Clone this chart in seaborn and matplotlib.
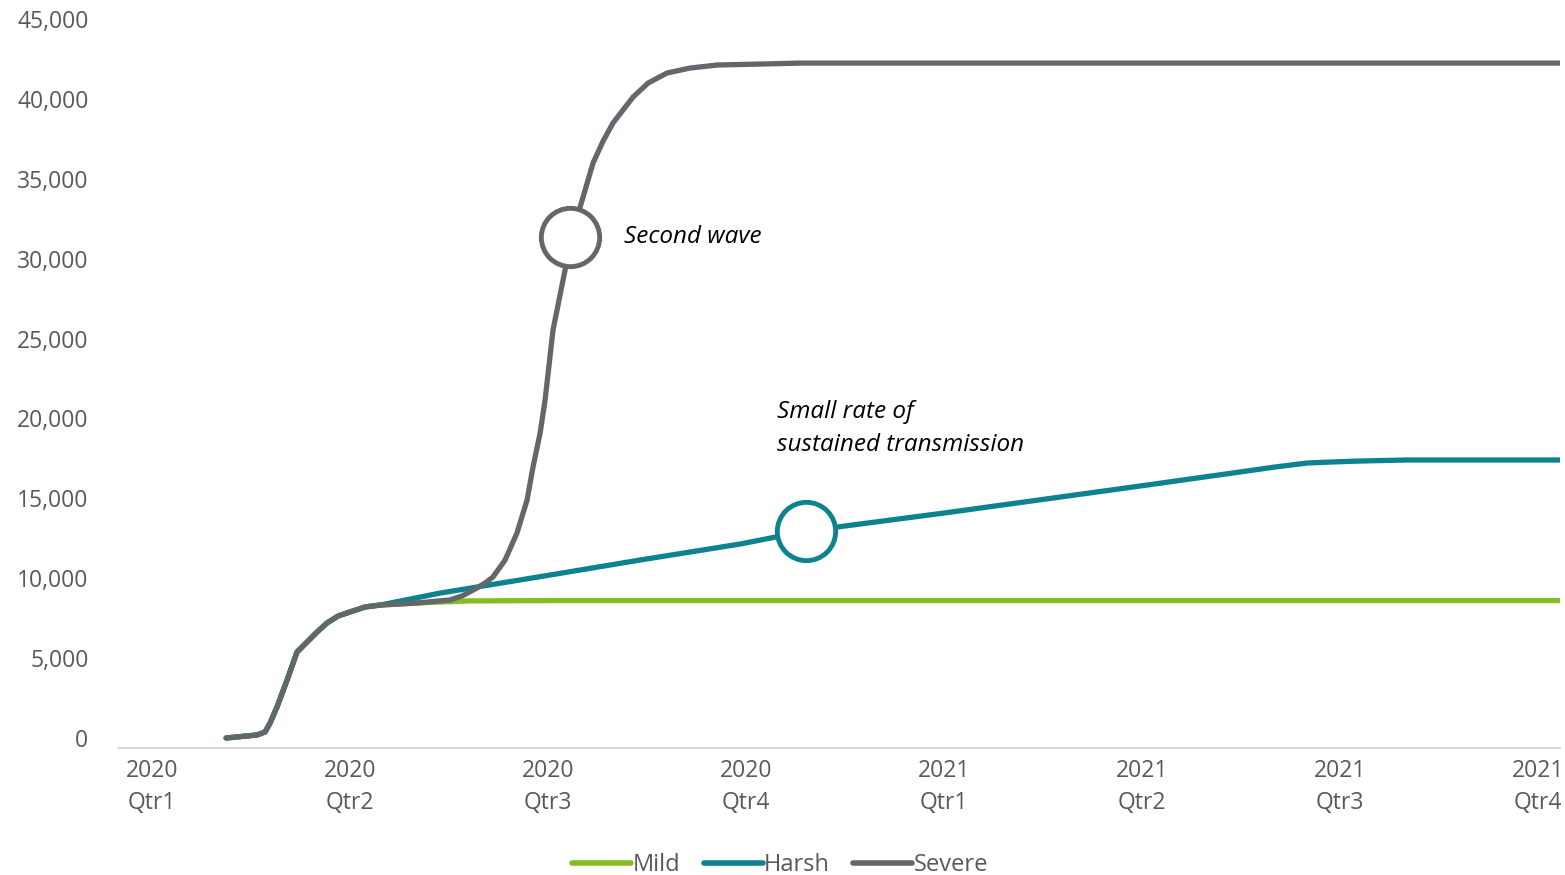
import pandas as pd
import numpy as np
import matplotlib
matplotlib.use('Agg')
import matplotlib.pyplot as plt
import seaborn as sns

# ==========================================
# Data (x = quarters after 2020 Qtr1, y = cumulative count)
# ==========================================
quarter_labels = ['2020\nQtr1', '2020\nQtr2', '2020\nQtr3', '2020\nQtr4',
                  '2021\nQtr1', '2021\nQtr2', '2021\nQtr3', '2021\nQtr4']

# shared early part of all three scenarios
early_x = [0.374, 0.530, 0.571, 0.596, 0.631, 0.682, 0.732, 0.783, 0.833, 0.884, 0.939, 1.000, 1.076, 1.152]
early_y = [0, 190, 380, 940, 1940, 3630, 5380, 6010, 6630, 7200, 7630, 7890, 8200, 8320]

mild_x = early_x + [1.338, 1.60, 2.00, 7.111]
mild_y = early_y + [8450, 8580, 8600, 8600]

harsh_x = early_x + [1.455, 2.010, 2.465, 2.970, 3.303, 4.000, 4.990, 5.495, 5.672, 5.833,
                     5.949, 6.086, 6.338, 7.111]
harsh_y = early_y + [9070, 10200, 11140, 12140, 12950, 14080, 15770, 16650, 16960, 17210,
                     17270, 17330, 17400, 17400]

severe_x = early_x + [1.338, 1.505, 1.566, 1.641, 1.682, 1.722, 1.783, 1.843, 1.894, 1.924,
                      1.960, 1.985, 2.025, 2.086, 2.111, 2.162, 2.227, 2.278, 2.328, 2.429,
                      2.505, 2.601, 2.717, 2.854, 3.071, 3.273, 7.111]
severe_y = early_y + [8450, 8640, 8890, 9390, 9700, 10080, 11140, 12830, 14890, 16960,
                      19090, 21150, 25530, 29290, 31350, 33230, 35980, 37360, 38490, 40110,
                      40990, 41620, 41930, 42120, 42180, 42240, 42240]

# highlighted points on the curves
wave_pt = (2.111, 31350)
sustained_pt = (3.303, 12950)

df = pd.concat([
    pd.DataFrame({'q': mild_x, 'val': mild_y, 'scenario': 'Mild'}),
    pd.DataFrame({'q': harsh_x, 'val': harsh_y, 'scenario': 'Harsh'}),
    pd.DataFrame({'q': severe_x, 'val': severe_y, 'scenario': 'Severe'}),
], ignore_index=True)

colors = {'Mild': '#86BC25', 'Harsh': '#0E828E', 'Severe': '#63666A'}

# ==========================================
# Plot
# ==========================================
sns.set_style('white')
plt.rcParams['font.family'] = ['Open Sans', 'DejaVu Sans']

fig = plt.figure(figsize=(15.65, 8.75), dpi=100)
ax = fig.add_axes([119 / 1565, 127 / 875, (1560 - 119) / 1565, (856 - 127) / 875])

sns.lineplot(data=df, x='q', y='val', hue='scenario', hue_order=['Mild', 'Harsh', 'Severe'],
             palette=colors, estimator=None, sort=False, linewidth=3.8, ax=ax, legend=False,
             solid_joinstyle='round', solid_capstyle='round')

for pt, c in [(wave_pt, colors['Severe']), (sustained_pt, colors['Harsh'])]:
    ax.plot([pt[0]], [pt[1]], marker='o', markersize=42, markerfacecolor='white',
            markeredgecolor=c, markeredgewidth=3.5, zorder=5)

ax.text(2.385, 31350, 'Second wave', style='italic', fontsize=17.5, color='black', va='center')
ax.text(3.155, 19400, 'Small rate of\nsustained transmission', style='italic', fontsize=17.5,
        color='black', va='center', linespacing=1.5)

ax.set_xlim(-0.167, 7.111)
ax.set_ylim(-626, 45000)
ax.set_xticks(range(len(quarter_labels)))
ax.set_xticklabels(quarter_labels)
ax.set_yticks(np.arange(0, 45001, 5000))
ax.yaxis.set_major_formatter(matplotlib.ticker.FuncFormatter(lambda v, p: f'{int(v):,}'))
ax.tick_params(axis='both', length=0, labelsize=16.5, labelcolor='#595959')
ax.tick_params(axis='y', pad=22)
ax.tick_params(axis='x', pad=8)
for lab in ax.get_xticklabels():
    lab.set_linespacing(1.45)
ax.set_xlabel('')
ax.set_ylabel('')

for side in ['top', 'right', 'left']:
    ax.spines[side].set_visible(False)
ax.spines['bottom'].set_color('#D9D9D9')
ax.spines['bottom'].set_linewidth(1.5)

handles = [plt.Line2D([0], [0], color=colors[k], lw=4, solid_capstyle='round') for k in ['Mild', 'Harsh', 'Severe']]
fig.legend(handles, ['Mild', 'Harsh', 'Severe'], loc='center', bbox_to_anchor=(780 / 1565, 1 - 865 / 875),
           ncol=3, frameon=False, fontsize=17, handlelength=2.5, handletextpad=0.05,
           columnspacing=1.0, labelcolor='#595959')

fig.savefig('out.png', dpi=100)
